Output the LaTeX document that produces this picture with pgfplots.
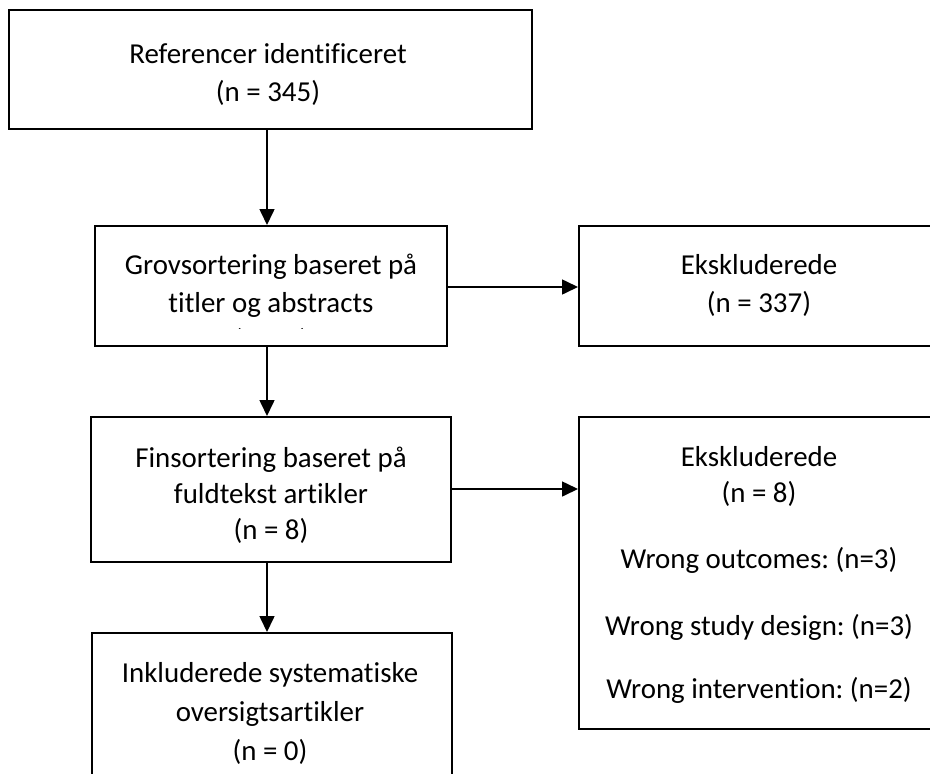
\documentclass[border=0pt]{standalone}
\usepackage{fontspec}
\setmainfont{Carlito}[Ligatures=NoCommon]
\usepackage{pgfplots}
\pgfplotsset{compat=1.18}
\usetikzlibrary{arrows.meta}
\tikzset{
  box/.style={black, line width=2bp, line cap=rect, line join=miter, mark=none},
  arr/.style={black, line width=1.6bp, mark=none, -{Triangle[length=16bp,width=15bp]}},
  txt/.style={font=\fontsize{29}{35}\selectfont\frenchspacing, anchor=base, inner sep=0pt},
}
\frenchspacing
\begin{document}
\begin{tikzpicture}
\begin{axis}[
  width=930bp, height=773bp, scale only axis,
  xmin=0, xmax=930, ymin=0, ymax=773, y dir=reverse,
  axis line style={draw=none}, ticks=none, clip=true,
]
% boxes
\addplot[box] coordinates {(9,10) (532,10) (532,129) (9,129) (9,10)};
\addplot[box] coordinates {(95,226) (447,226) (447,346) (95,346) (95,226)};
\addplot[box] coordinates {(579,226) (945,226) (945,346) (579,346) (579,226)};
\addplot[box] coordinates {(91,417) (451,417) (451,562) (91,562) (91,417)};
\addplot[box] coordinates {(579,417) (945,417) (945,729) (579,729) (579,417)};
\addplot[box] coordinates {(92,633) (452,633) (452,800) (92,800) (92,633)};
% arrows
\addplot[arr] coordinates {(267,130) (267,225)};
\addplot[arr] coordinates {(448,287) (578,287)};
\addplot[arr] coordinates {(267,347) (267,416)};
\addplot[arr] coordinates {(452,489) (578,489)};
\addplot[arr] coordinates {(267,563) (267,632)};
% texts
\node[txt] at (axis cs:268,64) {Referencer identificeret};
\node[txt] at (axis cs:268,101) {(n = 345)};
\node[txt] at (axis cs:271,274) {Grovsortering baseret på};
\node[txt] at (axis cs:271,312) {titler og abstracts};
\begin{scope}
\clip (axis cs:96,227) rectangle (axis cs:446,328);
\node[txt] at (axis cs:271,349) {(n = 8)};
\end{scope}
\node[txt] at (axis cs:759,274) {Ekskluderede};
\node[txt] at (axis cs:759,312) {(n = 337)};
\node[txt] at (axis cs:271,467) {Finsortering baseret på};
\node[txt] at (axis cs:271,503) {fuldtekst artikler};
\node[txt] at (axis cs:271,539) {(n = 8)};
\node[txt] at (axis cs:759,466) {Ekskluderede};
\node[txt] at (axis cs:759,502) {(n = 8)};
\node[txt] at (axis cs:759,568) {Wrong outcomes: (n=3)};
\node[txt] at (axis cs:759,635) {Wrong study design: (n=3)};
\node[txt] at (axis cs:759,698) {Wrong intervention: (n=2)};
\node[txt] at (axis cs:270,682) {Inkluderede systematiske};
\node[txt] at (axis cs:270,721) {oversigtsartikler};
\node[txt] at (axis cs:270,760) {(n = 0)};
\end{axis}
\end{tikzpicture}
\end{document}
